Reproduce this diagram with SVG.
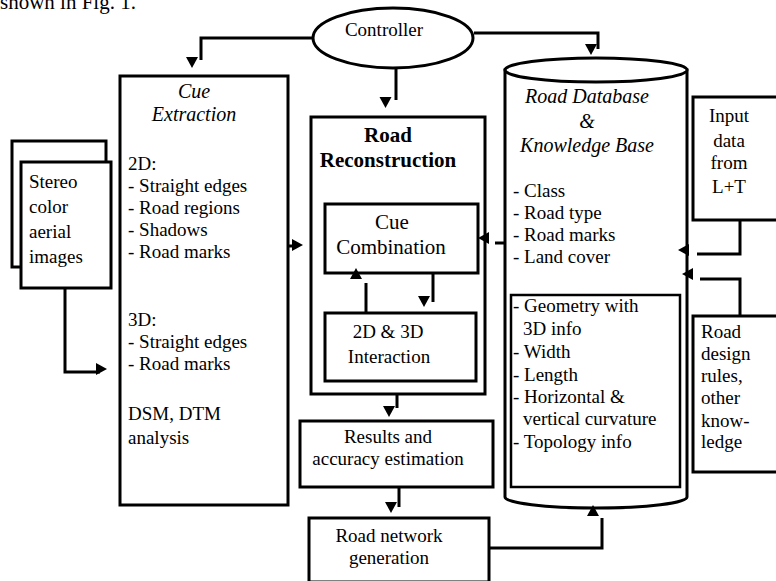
<svg xmlns="http://www.w3.org/2000/svg" xmlns:xlink="http://www.w3.org/1999/xlink" width="776" height="581" viewBox="0 0 776 581">
<style>
.box{fill:#fff;stroke:#000;stroke-width:3}
.ln{fill:none;stroke:#000;stroke-width:3}
text{font-family:"Liberation Serif","Times New Roman",serif;font-size:19px;fill:#000}
.c{text-anchor:middle}
.it{font-style:italic;font-size:20px}
.bd{font-weight:bold;font-size:21px}
</style>
<defs>
<path id="ah" d="M-6,-11 L6,-11 L0,0 Z" fill="#000"/>
</defs>
<rect width="776" height="581" fill="#fff"/>
<text x="0" y="9" style="font-size:21px">shown in Fig. 1.</text>

<g id="controller">
<ellipse class="box" cx="393" cy="38" rx="80" ry="30"/>
<text class="c" x="384" y="36">Controller</text>
</g>

<g id="stereo">
<rect class="box" x="12" y="141" width="94" height="126"/>
<rect class="box" x="21" y="162" width="90" height="126"/>
<text x="29" y="188">Stereo</text>
<text x="29" y="213">color</text>
<text x="29" y="238">aerial</text>
<text x="29" y="263">images</text>
</g>

<g id="cue-extraction">
<rect class="box" x="120" y="76" width="168" height="429"/>
<text class="c it" x="194" y="98">Cue</text>
<text class="c it" x="194" y="121">Extraction</text>
<text x="128" y="170">2D:</text>
<text x="128" y="192">- Straight edges</text>
<text x="128" y="214">- Road regions</text>
<text x="128" y="236">- Shadows</text>
<text x="128" y="258">- Road marks</text>
<text x="128" y="326">3D:</text>
<text x="128" y="348">- Straight edges</text>
<text x="128" y="370">- Road marks</text>
<text x="128" y="420">DSM, DTM</text>
<text x="128" y="444">analysis</text>
</g>

<g id="road-reconstruction">
<rect class="box" x="311" y="117" width="174" height="277"/>
<text class="c bd" x="388" y="142">Road</text>
<text class="c bd" x="388" y="167">Reconstruction</text>
</g>

<g id="cue-combination">
<rect class="box" x="325" y="204" width="153" height="69"/>
<text class="c" x="392" y="229" style="font-size:21px">Cue</text>
<text class="c" x="391" y="254" style="font-size:21px">Combination</text>
</g>

<g id="interaction">
<rect class="box" x="325" y="313" width="151" height="68"/>
<text class="c" x="388" y="338">2D &amp; 3D</text>
<text class="c" x="389" y="363">Interaction</text>
</g>

<g id="results">
<rect class="box" x="300" y="421" width="193" height="66"/>
<text class="c" x="388" y="443">Results and</text>
<text class="c" x="388" y="465">accuracy estimation</text>
</g>

<g id="road-network">
<rect class="box" x="309" y="518" width="180" height="64"/>
<text class="c" x="389" y="542">Road network</text>
<text class="c" x="389" y="564">generation</text>
</g>

<g id="database">
<path class="box" d="M505,70 V497 A91,11 0 0 0 687,497 V70 Z"/>
<ellipse class="box" cx="596" cy="70" rx="91" ry="12"/>
<text class="c it" x="587" y="103">Road Database</text>
<text class="c it" x="587" y="128">&amp;</text>
<text class="c it" x="587" y="152">Knowledge Base</text>
<text x="513" y="197">- Class</text>
<text x="513" y="219">- Road type</text>
<text x="513" y="241">- Road marks</text>
<text x="513" y="263">- Land cover</text>
<rect class="box" x="511" y="295" width="169" height="192" style="stroke-width:2.5"/>
<text x="513" y="312">- Geometry with</text>
<text x="523" y="335">3D info</text>
<text x="513" y="358">- Width</text>
<text x="513" y="381">- Length</text>
<text x="513" y="403">- Horizontal &amp;</text>
<text x="523" y="425">vertical curvature</text>
<text x="513" y="448">- Topology info</text>
</g>

<g id="input-data">
<rect class="box" x="693" y="97" width="90" height="123"/>
<text class="c" x="729" y="122">Input</text>
<text class="c" x="729" y="147">data</text>
<text class="c" x="729" y="169">from</text>
<text class="c" x="729" y="193">L+T</text>
</g>

<g id="design-rules">
<rect class="box" x="693" y="316" width="90" height="156"/>
<text x="701" y="338">Road</text>
<text x="701" y="360">design</text>
<text x="701" y="382">rules,</text>
<text x="701" y="404">other</text>
<text x="701" y="427">know-</text>
<text x="701" y="448">ledge</text>
</g>

<g id="connectors">
<path class="ln" d="M313,38 H201 V60"/>
<use xlink:href="#ah" transform="translate(192,68)"/>
<path class="ln" d="M396,68 V100"/>
<use xlink:href="#ah" transform="translate(385.5,108)"/>
<path class="ln" d="M474,33 H598 V49"/>
<use xlink:href="#ah" transform="translate(591,55)"/>
<path class="ln" d="M65,288 V372 H100"/>
<use xlink:href="#ah" transform="translate(107,369) rotate(-90)"/>
<path class="ln" d="M288,246 H296"/>
<use xlink:href="#ah" transform="translate(303,245) rotate(-90)"/>
<path class="ln" d="M505,243 H495"/>
<use xlink:href="#ah" transform="translate(478,238) rotate(90)"/>
<path class="ln" d="M433,273 V302"/>
<use xlink:href="#ah" transform="translate(424,307)"/>
<path class="ln" d="M366,313 V283"/>
<use xlink:href="#ah" transform="translate(356,268) rotate(180)"/>
<path class="ln" d="M397,394 V408"/>
<use xlink:href="#ah" transform="translate(389,417)"/>
<path class="ln" d="M399,487 V507"/>
<use xlink:href="#ah" transform="translate(391,513)"/>
<path class="ln" d="M489,548 H602 V518"/>
<use xlink:href="#ah" transform="translate(593,505) rotate(180)"/>
<path class="ln" d="M740,220 V254 H697"/>
<use xlink:href="#ah" transform="translate(678,250) rotate(90)"/>
<path class="ln" d="M740,316 V279 H700"/>
<use xlink:href="#ah" transform="translate(682,274) rotate(90)"/>
</g>
</svg>
